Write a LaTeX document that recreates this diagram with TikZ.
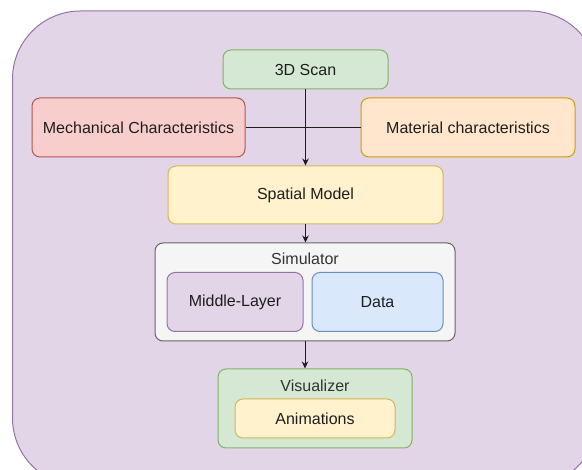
\documentclass[tikz,border=0pt]{standalone}
\usepackage{fontspec}
\setmainfont{Liberation Sans}
\usepackage{xcolor}
\usepackage{tikz}
\usetikzlibrary{shapes,arrows,positioning,calc,arrows.meta}

\definecolor{lilacF}{HTML}{E1D5E7}
\definecolor{lilacD}{HTML}{9673A6}
\definecolor{greenF}{HTML}{D5E8D4}
\definecolor{greenD}{HTML}{82B366}
\definecolor{redF}{HTML}{F8CECC}
\definecolor{redD}{HTML}{B85450}
\definecolor{orangeF}{HTML}{FFE6CC}
\definecolor{orangeD}{HTML}{D79B00}
\definecolor{yellowF}{HTML}{FFF2CC}
\definecolor{yellowD}{HTML}{D6B656}
\definecolor{greyF}{HTML}{F5F5F5}
\definecolor{greyD}{HTML}{666666}
\definecolor{greyT}{HTML}{333333}
\definecolor{blueF}{HTML}{DAE8FC}
\definecolor{blueD}{HTML}{6C8EBF}
\definecolor{ink}{HTML}{1E1E1E}

\tikzset{
  box/.style={draw, rounded corners=8pt, line width=1pt, inner sep=0pt,
    text=ink, font=\fontsize{16}{19}\selectfont},
  title/.style={inner sep=0pt, font=\fontsize{16}{19}\selectfont},
  link/.style={line width=1pt, draw=ink},
  arrow/.style={link, -{Stealth[length=7pt,width=6.5pt]}}
}

\begin{document}
\begin{tikzpicture}[x=1pt,y=-1pt]
    \useasboundingbox (0,0) rectangle (582,470);
    \clip (0,0) rectangle (582,470);

    % Background panel
    \draw[fill=lilacF, draw=lilacD, line width=1pt, rounded corners=68pt] (12.5,11) rectangle (598,486);

    % Inputs
    \node[box, fill=greenF, draw=greenD, minimum width=165pt, minimum height=39pt] (scan) at (305.5,69.5) {3D Scan};
    \node[box, fill=redF, draw=redD, minimum width=213pt, minimum height=59pt] (mech) at (138.5,127.5) {Mechanical Characteristics};
    \node[box, fill=orangeF, draw=orangeD, minimum width=214pt, minimum height=59pt] (mat) at (468,127.5) {Material characteristics};

    % Model
    \node[box, fill=yellowF, draw=yellowD, minimum width=275pt, minimum height=58pt] (spatial) at (305.5,195) {Spatial Model};

    % Simulator
    \node[box, fill=greyF, draw=greyD, minimum width=300pt, minimum height=98pt] (sim) at (305,292) {};
    \node[title, text=greyT] (simtitle) at (305,259) {Simulator};
    \node[box, fill=lilacF, draw=lilacD, minimum width=136pt, minimum height=59pt] (mid) at (235,302) {Middle-Layer};
    \node[box, fill=blueF, draw=blueD, minimum width=131pt, minimum height=59pt] (data) at (377.5,302) {Data};

    % Visualizer
    \node[box, fill=greenF, draw=greenD, minimum width=194pt, minimum height=79pt] (vis) at (315,408.5) {};
    \node[title, text=greyT] (vistitle) at (315,386) {Visualizer};
    \node[box, fill=yellowF, draw=yellowD, minimum width=160pt, minimum height=39pt] (anim) at (315,418.5) {Animations};

    % Connectors
    \draw[link] (mech.east) -- (mat.west);
    \draw[arrow] (scan.south) -- (spatial.north);
    \draw[arrow] (spatial.south) -- (spatial.south |- sim.north);
    \draw[arrow] (sim.south) -- (sim.south |- vis.north);
\end{tikzpicture}
\end{document}
